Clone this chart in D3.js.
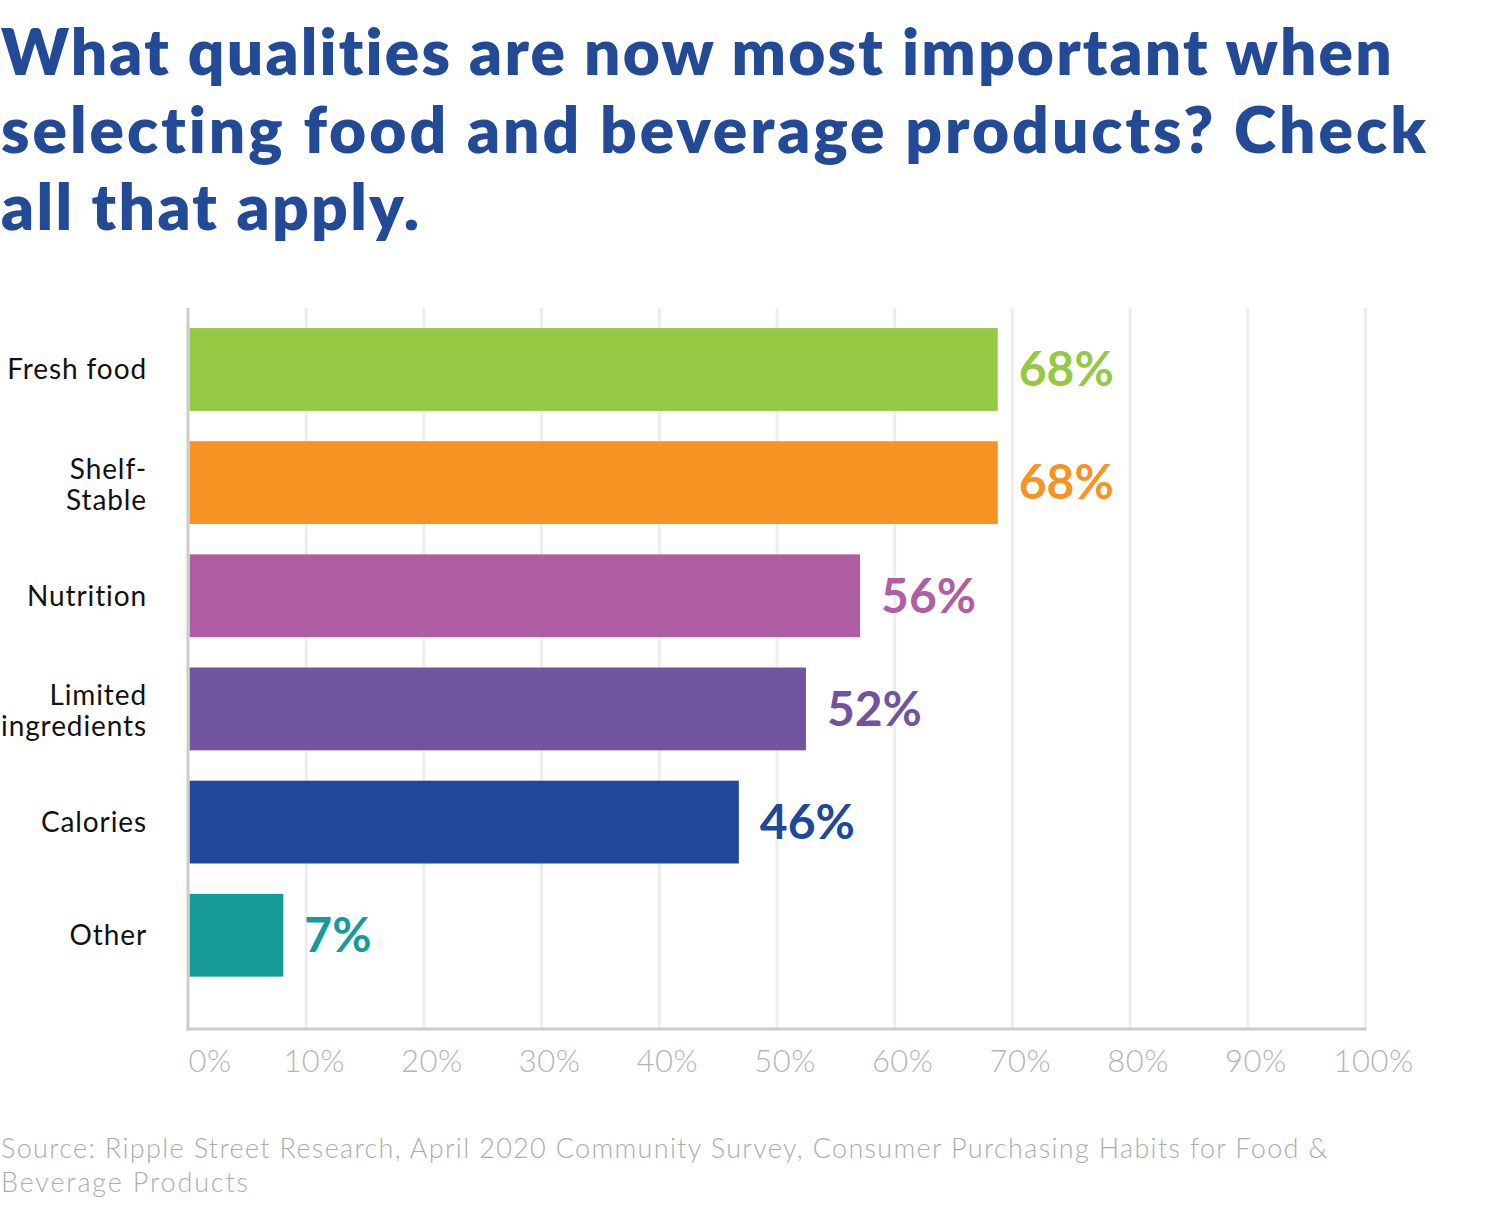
<!DOCTYPE html>
<html><head><meta charset="utf-8">
<script src="https://cdn.jsdelivr.net/npm/d3@7"></script>
<style>body{margin:0;background:#fff}svg{display:block}</style>
</head><body>
<svg id="chart" width="1507" height="1227"></svg>
<script>
const titleLines = ["What qualities are now most important when", "selecting food and beverage products? Check", "all that apply."];
const categories = ["Fresh food", "Shelf-\nStable", "Nutrition", "Limited\ningredients", "Calories", "Other"];
const values = [68.8, 68.8, 57.1, 52.5, 46.8, 8.1];
const valueLabels = ["68%", "68%", "56%", "52%", "46%", "7%"];
const colors = ["#95c943", "#f69322", "#b05ea3", "#70549f", "#20489a", "#179b9a"];
const tickValues = [0, 10, 20, 30, 40, 50, 60, 70, 80, 90, 100];
const tickLabels = ["0%", "10%", "20%", "30%", "40%", "50%", "60%", "70%", "80%", "90%", "100%"];
const sourceLines = ["Source: Ripple Street Research, April 2020 Community Survey, Consumer Purchasing Habits for Food &", "Beverage Products"];

const svg = d3.select("#chart");
svg.append("rect").attr("width", 1507).attr("height", 1227).attr("fill", "#fff");

const FONT = "Lato, 'Open Sans', sans-serif";
const plot = {left: 188, right: 1365, top: 308, bottom: 1029};

const x = d3.scaleLinear().domain([0, 100]).range([plot.left, plot.right]);
const y = d3.scaleBand().domain(categories).range([plot.top, plot.bottom])
  .paddingInner(0.268).paddingOuter(0.32).align(0.277);

// fit text lines to target widths via letter spacing
function fitLine(sel, target) {
  const n = sel.text().length;
  const w = sel.node().getComputedTextLength();
  sel.attr("letter-spacing", ((target - w) / Math.max(1, n - 1)).toFixed(2));
}

// title
const titleWidths = [1392, 1426, 418];
const title = svg.append("g");
titleLines.forEach((t, i) => {
  const s = title.append("text").attr("x", 1).attr("y", 75 + i * 77.5)
    .attr("font-family", FONT).attr("font-weight", 800).attr("font-size", 64)
    .attr("fill", "#234a97").text(t);
  fitLine(s, titleWidths[i]);
});

// grid + x axis
const xAxis = d3.axisBottom(x).tickValues(tickValues)
  .tickFormat((d, i) => tickLabels[i]).tickSize(-(plot.bottom - plot.top));
const gx = svg.append("g").attr("transform", `translate(0,${plot.bottom})`).call(xAxis);
gx.select(".domain").remove();
gx.selectAll(".tick line").attr("stroke", "#ededed").attr("stroke-width", 3)
  .filter(d => d === 0).remove();
gx.selectAll(".tick text")
  .attr("y", 32).attr("dy", "0.35em")
  .attr("font-family", FONT).attr("font-weight", 300).attr("font-size", 31)
  .attr("letter-spacing", 0.5)
  .attr("fill", "#b5b5b5")
  .attr("text-anchor", d => d === 0 ? "start" : "middle")
  .attr("dx", d => d === 0 ? 0 : 8);

// bars
svg.append("g").selectAll("rect").data(categories).join("rect")
  .attr("x", x(0) + 1.5)
  .attr("y", d => y(d))
  .attr("width", (d, i) => x(values[i]) - x(0) - 1.5)
  .attr("height", y.bandwidth())
  .attr("fill", (d, i) => colors[i]);

// value labels
svg.append("g").selectAll("text").data(categories).join("text")
  .attr("x", (d, i) => x(values[i]) + 21)
  .attr("y", d => y(d) + y.bandwidth() / 2)
  .attr("dy", "0.35em")
  .attr("font-family", FONT).attr("font-weight", 700).attr("font-size", 48)
  .attr("fill", (d, i) => colors[i])
  .text((d, i) => valueLabels[i]);

// axis lines
svg.append("line").attr("x1", plot.left).attr("x2", plot.left)
  .attr("y1", plot.top).attr("y2", plot.bottom + 1.5)
  .attr("stroke", "#cccccc").attr("stroke-width", 3);
svg.append("line").attr("x1", plot.left - 1.5).attr("x2", plot.right + 1.5)
  .attr("y1", plot.bottom).attr("y2", plot.bottom)
  .attr("stroke", "#cccccc").attr("stroke-width", 3);

// category labels
const cat = svg.append("g").selectAll("text").data(categories).join("text")
  .attr("text-anchor", "end")
  .attr("font-family", FONT).attr("font-weight", 400).attr("font-size", 28)
  .attr("letter-spacing", 0.9)
  .attr("fill", "#111");
cat.each(function(d) {
  const lines = d.split("\n");
  const cy = y(d) + y.bandwidth() / 2;
  const lh = 31;
  const base = cy + 10 - (lines.length - 1) * lh / 2 + (lines.length > 1 ? 2 : 0);
  d3.select(this).selectAll("tspan").data(lines).join("tspan")
    .attr("x", 147).attr("y", (l, j) => base + j * lh).text(l => l);
});

// source
const srcWidths = [1326, 247];
sourceLines.forEach((t, i) => {
  const s = svg.append("text").attr("x", 1).attr("y", 1158 + i * 34)
    .attr("font-family", FONT).attr("font-weight", 300).attr("font-size", 27)
    .attr("fill", "#adadad").text(t);
  fitLine(s, srcWidths[i]);
});
</script>
</body></html>
